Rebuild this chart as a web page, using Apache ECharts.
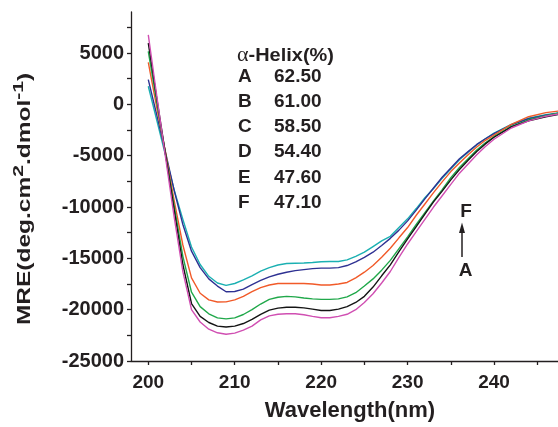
<!DOCTYPE html>
<html>
<head>
<meta charset="utf-8">
<script src="https://cdn.jsdelivr.net/npm/echarts@6/dist/echarts.min.js"></script>
<style>
html,body{margin:0;padding:0;background:#fff;}
#chart{width:558px;height:427px;}
</style>
</head>
<body>
<div id="chart"></div>
<script>
// Wavelength (nm)
const wavelength = [200,201,202,203,204,205,206,207,208,209,210,211,212,213,214,215,216,217,218,219,220,221,222,223,224,225,226,227,228,229,230,231,232,233,234,235,236,237,238,239,240,242,244,246,248];
// MRE values (deg.cm2.dmol-1)
const seriesA = [6770,700,-5200,-11000,-16300,-20000,-21200,-21900,-22250,-22400,-22280,-22000,-21600,-21000,-20600,-20450,-20400,-20400,-20500,-20650,-20790,-20790,-20650,-20450,-20000,-19300,-18450,-17400,-16280,-14900,-13600,-12400,-11200,-10000,-8900,-7800,-6700,-5800,-4900,-4100,-3400,-2300,-1600,-1150,-850];
const seriesB = [5960,500,-4900,-10300,-15600,-19400,-20650,-21250,-21600,-21690,-21600,-21350,-20950,-20450,-20050,-19850,-19760,-19760,-19820,-19950,-20080,-20080,-19950,-19700,-19300,-18700,-17800,-16700,-15630,-14350,-13100,-11900,-10700,-9500,-8450,-7350,-6350,-5450,-4600,-3850,-3200,-2200,-1600,-1200,-900];
const seriesC = [5160,100,-4900,-9900,-14800,-18300,-19700,-20400,-20800,-20900,-20800,-20470,-20000,-19450,-19000,-18790,-18700,-18750,-18860,-18950,-19000,-19000,-18950,-18750,-18350,-17700,-17000,-16150,-15200,-14050,-12900,-11700,-10550,-9400,-8300,-7150,-6150,-5300,-4450,-3750,-3150,-2150,-1500,-1100,-750];
const seriesD = [4090,-400,-4700,-9400,-13700,-16900,-18400,-19050,-19250,-19240,-19050,-18700,-18250,-17850,-17600,-17450,-17450,-17450,-17450,-17500,-17600,-17600,-17500,-17350,-16900,-16350,-15700,-14900,-14020,-13000,-12000,-10800,-9700,-8600,-7550,-6550,-5700,-4900,-4150,-3500,-3000,-1950,-1200,-800,-600];
const seriesE = [2420,-1100,-4700,-8400,-11700,-14300,-15900,-17000,-17700,-18250,-18230,-18000,-17550,-17150,-16800,-16550,-16350,-16200,-16100,-16000,-15950,-15950,-15900,-15700,-15350,-14900,-14400,-13750,-13050,-12250,-11350,-10300,-9200,-8150,-7100,-6200,-5300,-4600,-3900,-3350,-2850,-2000,-1400,-1050,-800];
const seriesF = [1770,-1600,-5000,-8350,-11200,-13900,-15600,-16750,-17400,-17630,-17450,-17100,-16700,-16250,-15900,-15650,-15500,-15470,-15450,-15400,-15330,-15310,-15310,-15150,-14800,-14400,-13850,-13300,-12850,-12000,-11150,-10150,-9100,-8200,-7200,-6300,-5400,-4650,-3950,-3350,-2800,-1950,-1350,-1000,-750];

const seriesNames = ['A','B','C','D','E','F'];
const helixValues = ['62.50','61.00','58.50','54.40','47.60','47.10'];
const xTickValues = [200,205,210,215,220,225,230,235,240,245];
const xLabelValues = [200,210,220,230,240];
const yTickValues = [-25000,-22500,-20000,-17500,-15000,-12500,-10000,-7500,-5000,-2500,0,2500,5000,7500];
const yLabelValues = [-25000,-20000,-15000,-10000,-5000,0,5000];

const colors = ['#d04fb2','#141414','#20a84a','#f15a29','#2e3192','#1bb0b2'];
const allSeries = [seriesA,seriesB,seriesC,seriesD,seriesE,seriesF];

const textColor = '#231f20';
const font = 'Liberation Sans, Arial, sans-serif';

const chart = echarts.init(document.getElementById('chart'));

const legendRowsY = [77,102,127,152,177.5,202.5];
const graphics = [];
graphics.push({
  type:'text', left:237, top:45,
  style:{
    text:'{g|α}{b|-Helix(%)}',
    rich:{
      g:{fontFamily:'Liberation Serif, serif', fontSize:21, fill:textColor, fontWeight:'normal'},
      b:{fontFamily:font, fontSize:19, fontWeight:'bold', fill:textColor}
    }
  },
  scaleX:1.05
});
seriesNames.forEach((n,i)=>{
  graphics.push({type:'text', x:238, y:legendRowsY[i], style:{text:n, font:'bold 19px '+font, fill:textColor, verticalAlign:'middle', align:'left'}});
  graphics.push({type:'text', x:274, y:legendRowsY[i], style:{text:helixValues[i], font:'bold 19px '+font, fill:textColor, verticalAlign:'middle', align:'left'}});
});
graphics.push({type:'text', x:466, y:212, style:{text:'F', font:'bold 19px '+font, fill:textColor, verticalAlign:'middle', align:'center'}});
graphics.push({type:'text', x:465.5, y:270.5, style:{text:'A', font:'bold 19px '+font, fill:textColor, verticalAlign:'middle', align:'center'}});
graphics.push({type:'line', shape:{x1:462, y1:257, x2:462, y2:231}, style:{stroke:textColor, lineWidth:1.5}});
graphics.push({type:'polygon', shape:{points:[[462,222.5],[459,233],[465,233]]}, style:{fill:textColor}});
// y-axis title
graphics.push({
  type:'text', x:25.5, y:199, rotation:Math.PI/2, scaleX:1.36,
  style:{
    text:'{a|MRE(deg.cm}{s|2}{a|.dmol}{s|-1}{a|)}',
    align:'center', verticalAlign:'middle',
    rich:{
      a:{fontSize:18, fontWeight:'bold', fill:textColor, fontFamily:font, lineHeight:30},
      s:{fontSize:15.5, fontWeight:'bold', fill:textColor, fontFamily:font, lineHeight:15, verticalAlign:'top'}
    }
  }
});

const option = {
  animation:false,
  backgroundColor:'#ffffff',
  grid:{left:131, right:0, top:12, bottom:63.7, containLabel:false},
  xAxis:{
    type:'value', min:198, max:247.4,
    axisLine:{onZero:false, lineStyle:{color:textColor, width:1.3}},
    axisTick:{customValues:xTickValues, length:4, lineStyle:{color:textColor, width:1.3}},
    axisLabel:{customValues:xLabelValues, fontSize:19, fontWeight:'bold', color:textColor, margin:12, fontFamily:font,
      formatter:(v)=>String(v)},
    splitLine:{show:false},
    name:'Wavelength(nm)', nameLocation:'middle', nameGap:39,
    nameTextStyle:{fontSize:22, fontWeight:'bold', color:textColor, fontFamily:font, padding:[0,0,0,11]}
  },
  yAxis:{
    type:'value', min:-25000, max:9000,
    axisLine:{show:true, onZero:false, lineStyle:{color:textColor, width:1.3}},
    axisTick:{show:true, customValues:yTickValues, length:4, lineStyle:{color:textColor, width:1.3}},
    axisLabel:{customValues:yLabelValues, fontSize:20, fontWeight:'bold', color:textColor, margin:7, fontFamily:font,
      formatter:(v)=>String(v)},
    splitLine:{show:false}
  },
  graphic:graphics,
  series: allSeries.map((vals,i)=>({
    name:seriesNames[i],
    type:'line',
    data:wavelength.map((w,j)=>[w, vals[j]]),
    showSymbol:false, symbol:'none',
    lineStyle:{color:colors[i], width:1.4},
    itemStyle:{color:colors[i]},
    clip:true,
    z: 2 + (5-i)
  }))
};
chart.setOption(option);
</script>
</body>
</html>
